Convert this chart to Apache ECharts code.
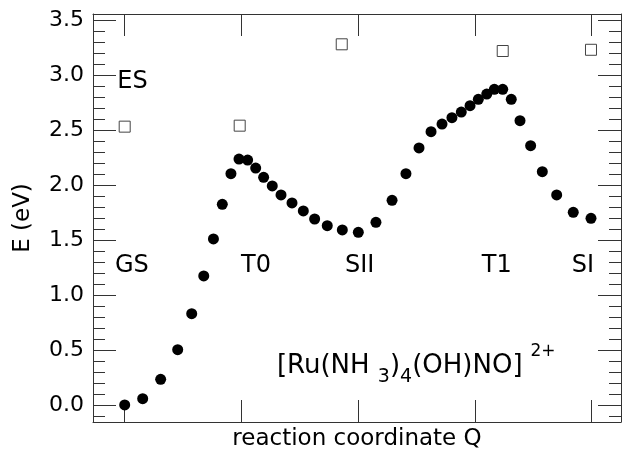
<!DOCTYPE html>
<html>
<head>
<meta charset="utf-8">
<script src="https://cdn.jsdelivr.net/npm/echarts@6/dist/echarts.min.js"></script>
<style>
html,body{margin:0;padding:0;background:#fff;}
#main{width:622px;height:453px;}
</style>
</head>
<body>
<div id="main"></div>
<script>
// ground state curve (filled dots)
var groundQ = [0, 0.154, 0.308, 0.454, 0.574, 0.677, 0.760, 0.836, 0.910, 0.979, 1.053, 1.122, 1.190, 1.264, 1.339, 1.433, 1.530, 1.627, 1.735, 1.864, 2.001,
  2.152, 2.290, 2.409, 2.521, 2.624, 2.718, 2.803, 2.883, 2.958, 3.029, 3.101, 3.166, 3.238, 3.311, 3.386, 3.477, 3.577, 3.700, 3.842, 3.994];
var groundE = [0.00, 0.057, 0.234, 0.504, 0.832, 1.175, 1.512, 1.828, 2.107, 2.240, 2.231, 2.158, 2.074, 1.995, 1.913, 1.840, 1.767, 1.694, 1.633, 1.594, 1.573,
  1.664, 1.864, 2.107, 2.341, 2.489, 2.559, 2.617, 2.668, 2.726, 2.784, 2.832, 2.875, 2.875, 2.784, 2.589, 2.362, 2.125, 1.913, 1.755, 1.700];
// excited state (open squares)
var excitedQ = [0, 0.985, 1.859, 3.238, 3.994];
var excitedE = [2.535, 2.544, 3.285, 3.224, 3.235];
// text labels on the plot
var tagNames = ['ES', 'GS', 'T0', 'SII', 'T1', 'SI'];
var tagQ = [-0.063, -0.083, 0.997, 1.887, 3.058, 3.829];
var tagE = [2.944, 1.266, 1.266, 1.266, 1.266, 1.266];

var font = 'DejaVu Sans';
var lineCol = '#333';

function pairs(a, b) {
  var out = [];
  for (var i = 0; i < a.length; i++) out.push([a[i], b[i]]);
  return out;
}
var tagData = [];
for (var i = 0; i < tagNames.length; i++) {
  tagData.push({name: tagNames[i], value: [tagQ[i], tagE[i]]});
}

var xMin = -0.2715, xMax = 4.251;
var yMin = -0.155, yMax = 3.561;

function halfStep(v) {
  return Math.abs(v * 2 - Math.round(v * 2)) < 1e-6;
}

var myChart = echarts.init(document.getElementById('main'));
var option = {
  animation: false,
  grid: {left: 93, right: 1, top: 14, bottom: 31, outerBoundsMode: 'none', containLabel: false},
  xAxis: [
    {
      type: 'value', min: xMin, max: xMax, position: 'bottom', splitNumber: 5,
      name: 'reaction coordinate Q', nameLocation: 'middle', nameGap: 6,
      nameTextStyle: {fontFamily: font, fontSize: 23, color: '#000', verticalAlign: 'top'},
      axisLine: {show: true, onZero: false, lineStyle: {color: lineCol, width: 1}},
      axisTick: {show: true, inside: true, length: 22, lineStyle: {color: lineCol}},
      axisLabel: {show: false},
      splitLine: {show: false}
    },
    {
      type: 'value', min: xMin, max: xMax, position: 'top', splitNumber: 5,
      axisLine: {show: true, onZero: false, lineStyle: {color: lineCol, width: 1}},
      axisTick: {show: true, inside: true, length: 22, lineStyle: {color: lineCol}},
      axisLabel: {show: false},
      splitLine: {show: false}
    }
  ],
  yAxis: [
    {
      type: 'value', min: yMin, max: yMax, position: 'left', splitNumber: 8,
      name: 'E (eV)', nameLocation: 'middle', nameGap: 58, nameRotate: 90,
      nameTextStyle: {fontFamily: font, fontSize: 23, color: '#000'},
      axisLine: {show: true, onZero: false, lineStyle: {color: lineCol, width: 1}},
      axisTick: {show: true, inside: true, length: 23, lineStyle: {color: lineCol}},
      minorTick: {show: true, splitNumber: 5, length: 12, lineStyle: {color: lineCol}},
      axisLabel: {
        show: true, margin: 9, fontFamily: font, fontSize: 22, color: '#000',
        formatter: function (v) { return halfStep(v) ? v.toFixed(1) : ''; }
      },
      splitLine: {show: false}, minorSplitLine: {show: false}
    },
    {
      type: 'value', min: yMin, max: yMax, position: 'right', splitNumber: 8,
      axisLine: {show: true, onZero: false, lineStyle: {color: lineCol, width: 1}},
      axisTick: {show: true, inside: true, length: 23, lineStyle: {color: lineCol}},
      minorTick: {show: true, splitNumber: 5, length: 12, lineStyle: {color: lineCol}},
      axisLabel: {show: false},
      splitLine: {show: false}, minorSplitLine: {show: false}
    }
  ],
  series: [
    {
      name: 'GS', type: 'scatter', symbol: 'circle', symbolSize: 11,
      itemStyle: {color: '#000', opacity: 1},
      data: pairs(groundQ, groundE)
    },
    {
      name: 'ES', type: 'scatter', symbol: 'rect', symbolSize: 11,
      itemStyle: {color: '#fff', borderColor: '#444', borderWidth: 1, opacity: 1},
      data: pairs(excitedQ, excitedE)
    },
    {
      name: 'tags', type: 'scatter', symbolSize: 0, silent: true,
      itemStyle: {opacity: 1},
      label: {
        show: true, position: 'right', distance: 0, formatter: '{b}',
        fontFamily: font, fontSize: 24, color: '#000'
      },
      data: tagData
    },
    {
      name: 'formula', type: 'scatter', symbolSize: 0, silent: true,
      itemStyle: {opacity: 1},
      label: {
        show: true, position: 'right', distance: 0,
        formatter: '{m|[Ru(NH }{s|3}{m|)}{s|4}{m|(OH)NO]}{p|2+}',
        rich: {
          m: {fontFamily: font, fontSize: 26, color: '#000', verticalAlign: 'top', padding: [10, 0, 0, 0], lineHeight: 30},
          s: {fontFamily: font, fontSize: 19, color: '#000', verticalAlign: 'top', padding: [24, 0, 0, 0], lineHeight: 22},
          p: {fontFamily: font, fontSize: 17, color: '#000', verticalAlign: 'top', padding: [0, 0, 0, 8], lineHeight: 18}
        }
      },
      data: [{name: 'formula', value: [1.304, 0.425]}]
    }
  ]
};
myChart.setOption(option);
window.addEventListener('resize', function () {
  myChart.resize();
});
</script>
</body>
</html>
